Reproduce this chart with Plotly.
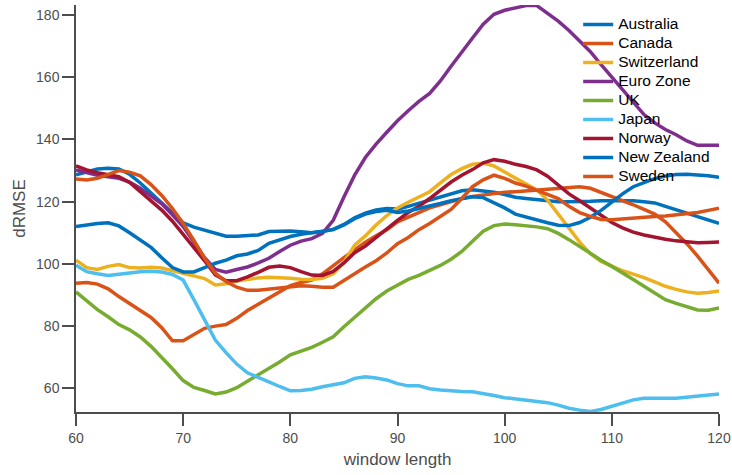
import plotly.graph_objects as go

window_length = list(range(60, 121))

australia = [128.6, 129.5, 130.5, 130.7, 130.5, 128.8, 126.0, 122.8, 119.5, 116.3,
             113.2, 111.8, 110.8, 109.8, 108.9, 108.9, 109.1, 109.3, 110.4, 110.6,
             110.6, 110.3, 110.0, 110.4, 111.1, 112.7, 114.8, 116.3, 117.3, 117.8,
             117.6, 118.5, 119.5, 120.5, 121.6, 122.6, 123.5, 123.8, 123.5, 123.0,
             122.3, 121.4, 121.0, 120.6, 120.2, 120.0, 120.0, 120.0, 120.1, 120.3,
             120.3, 120.3, 120.3, 120.0, 119.6, 118.5, 117.5, 116.3, 115.2, 114.0, 113.0]

canada = [93.8, 94.0, 93.5, 92.0, 89.5, 87.3, 85.0, 82.8, 79.5, 75.3,
          75.3, 77.3, 79.3, 80.0, 80.5, 82.5, 85.0, 87.0, 89.0, 91.2,
          93.0, 94.0, 94.8, 96.8, 99.5, 102.0, 104.5, 107.0, 109.0, 111.0,
          113.5, 115.0, 116.5, 118.0, 119.0, 120.0, 121.0, 121.7, 122.2, 122.6,
          123.0, 123.2, 123.5, 123.8, 124.0, 124.3, 124.6, 124.8, 124.3, 123.0,
          121.8, 120.5, 119.0, 117.5, 116.0, 113.5, 110.0, 106.5, 102.5, 98.3, 93.8]

switzerland = [101.2, 98.8, 98.2, 99.2, 99.8, 98.8, 98.7, 98.9, 98.7, 97.8,
               97.0, 96.2, 95.3, 93.2, 93.6, 94.5, 95.0, 95.5, 95.7, 95.6,
               95.4, 95.1, 95.0, 95.4, 96.8, 100.5, 106.0, 109.0, 112.5, 115.5,
               118.0, 119.8, 121.5, 123.2, 126.0, 128.7, 130.6, 132.0, 132.3, 131.5,
               129.5, 127.5, 125.8, 123.8, 120.5, 116.0, 111.5, 107.0, 103.3, 100.8,
               99.3, 97.8, 96.7, 95.6, 94.2, 92.8, 91.8, 91.0, 90.6, 90.8, 91.3]

euro_zone = [130.2, 129.3, 128.5, 128.0, 127.5, 126.3, 124.3, 121.8, 119.3, 115.8,
             112.0, 107.0, 102.0, 98.2, 97.3, 98.2, 99.0, 100.3, 101.8, 104.0,
             106.0, 107.3, 108.1, 109.8, 114.0, 121.5, 128.5, 134.2, 138.5, 142.3,
             146.0, 149.2, 152.2, 154.8, 158.8, 163.5, 168.2, 172.6, 177.0, 180.2,
             181.5, 182.2, 183.0, 183.0, 180.5, 178.0, 175.0, 171.5, 168.2, 164.0,
             160.0, 156.3, 152.0, 148.0, 145.3, 143.2, 141.5, 139.5, 138.1, 138.0, 138.1]

uk = [91.0, 88.0, 85.3, 83.0, 80.5, 78.8, 76.5, 73.5, 70.0, 66.3,
      62.5, 60.3, 59.3, 58.2, 58.8, 60.2, 62.3, 64.3, 66.2, 68.5,
      70.8, 72.0, 73.2, 74.8, 76.6, 79.8, 82.8, 86.0, 88.8, 91.3,
      93.2, 95.0, 96.3, 97.8, 99.5, 101.5, 104.0, 107.3, 110.5, 112.3,
      112.8, 112.6, 112.3, 111.9, 111.3, 109.8, 107.8, 105.5, 103.2, 101.2,
      99.2, 97.2, 95.0, 92.8, 90.5, 88.5, 87.3, 86.2, 85.2, 85.1, 85.8]

japan = [99.6, 97.5, 96.8, 96.3, 96.7, 97.1, 97.5, 97.6, 97.4, 96.6,
         94.8, 88.5, 82.0, 75.5, 71.5, 67.8, 65.0, 63.4, 62.1, 60.6,
         59.2, 59.3, 59.7, 60.5, 61.1, 61.8, 63.2, 63.7, 63.3, 62.7,
         61.5, 60.8, 60.8, 59.9, 59.5, 59.2, 59.0, 58.9, 58.4, 57.7,
         57.0, 56.6, 56.4, 56.0, 55.4, 54.6, 53.6, 53.0, 52.6, 53.2,
         54.3, 55.2, 56.3, 56.8, 56.9, 56.8, 56.8, 57.1, 57.4, 57.7, 58.2]

norway = [131.5, 130.2, 129.3, 128.7, 128.0, 126.2, 123.3, 120.5, 117.3, 113.7,
          109.5, 105.5, 101.0, 96.5, 94.6, 94.6, 95.8, 97.3, 98.9, 99.3,
          98.8, 97.5, 96.4, 96.3, 97.6, 100.3, 103.6, 105.7, 108.5, 111.2,
          114.0, 116.5, 118.5, 121.0, 123.7, 126.3, 128.5, 130.3, 132.5, 133.5,
          133.0, 132.0, 131.3, 130.2, 128.2, 125.2, 122.5, 120.3, 118.0, 115.6,
          113.3, 111.6, 110.2, 109.3, 108.5, 107.9, 107.4, 107.0, 106.8, 106.9, 107.0]

new_zealand = [112.0, 112.5, 113.0, 113.2, 112.2, 110.0, 107.7, 105.3, 102.0, 98.8,
               97.4, 97.4, 98.8, 100.2, 101.2, 102.6, 103.2, 104.3, 106.6, 107.8,
               108.8, 109.5, 110.0, 110.4, 111.0, 112.5, 114.5, 116.0, 116.8, 117.2,
               116.5, 117.0, 117.8, 118.4, 119.4, 120.3, 121.0, 121.6, 121.3, 119.8,
               118.0, 116.0, 115.0, 114.1, 113.2, 112.4, 112.3, 113.3, 115.0, 117.2,
               120.0, 122.5, 124.8, 126.2, 127.4, 128.2, 128.7, 128.8, 128.6, 128.3, 127.8]

sweden = [127.3, 127.0, 127.5, 128.8, 130.0, 129.5, 128.3, 125.5, 122.0, 117.8,
          113.0, 107.5, 101.8, 97.0, 94.3, 92.5, 91.5, 91.5, 91.9, 92.3,
          92.7, 93.0, 92.8, 92.5, 92.5, 94.5, 96.8, 99.0, 101.0, 103.5,
          106.5, 108.5, 111.0, 113.0, 115.2, 117.5, 121.0, 124.8, 127.0, 128.5,
          127.5, 126.0, 125.0, 123.7, 122.5, 121.0, 118.5, 116.5, 115.3, 114.3,
          114.2, 114.5, 114.8, 115.0, 115.2, 115.4, 115.7, 116.0, 116.5, 117.2, 117.9]

series_names = ["Australia", "Canada", "Switzerland", "Euro Zone", "UK",
                "Japan", "Norway", "New Zealand", "Sweden"]
series_values = [australia, canada, switzerland, euro_zone, uk,
                 japan, norway, new_zealand, sweden]
series_colors = ["#0072BD", "#D95319", "#EDB120", "#7E2F8E", "#77AC30",
                 "#4DBEEE", "#A2142F", "#0072BD", "#D95319"]

x_ticks = [60, 70, 80, 90, 100, 110, 120]
y_ticks = [60, 80, 100, 120, 140, 160, 180]

axis_gray = "#4d4d4d"
font_family = "Liberation Sans, Arial, Helvetica, sans-serif"

fig = go.Figure()
for name, vals, col in zip(series_names, series_values, series_colors):
    fig.add_trace(go.Scatter(
        x=window_length, y=vals, mode="lines",
        name="<span style='font-size:15.5px'>" + name + "</span>",
        line=dict(color=col, width=3.5)))

fig.update_layout(
    width=732, height=475,
    margin=dict(l=76, r=13, t=5, b=63),
    paper_bgcolor="white", plot_bgcolor="white",
    font=dict(family=font_family, size=14, color=axis_gray),
    showlegend=True,
    legend=dict(x=0.781, y=0.988, xanchor="left", yanchor="top",
                bgcolor="rgba(0,0,0,0)", borderwidth=0,
                font=dict(family=font_family, size=12, color="black"),
                tracegroupgap=0),
    xaxis=dict(range=[60, 120], tickvals=x_ticks, ticks="outside", ticklen=12,
               tickwidth=1.5, tickcolor=axis_gray, showline=True, linecolor=axis_gray,
               linewidth=1.5, showgrid=False, zeroline=False, automargin=False,
               title=dict(text="window length", standoff=9),
               tickfont=dict(size=14, color=axis_gray)),
    yaxis=dict(range=[52.4, 183.2], tickvals=y_ticks, ticks="outside", ticklen=12,
               tickwidth=1.5, tickcolor=axis_gray, showline=True, linecolor=axis_gray,
               linewidth=1.5, showgrid=False, zeroline=False, automargin=False,
               title=dict(text="dRMSE", standoff=6),
               tickfont=dict(size=14, color=axis_gray)),
)

fig.write_html("out.html")
